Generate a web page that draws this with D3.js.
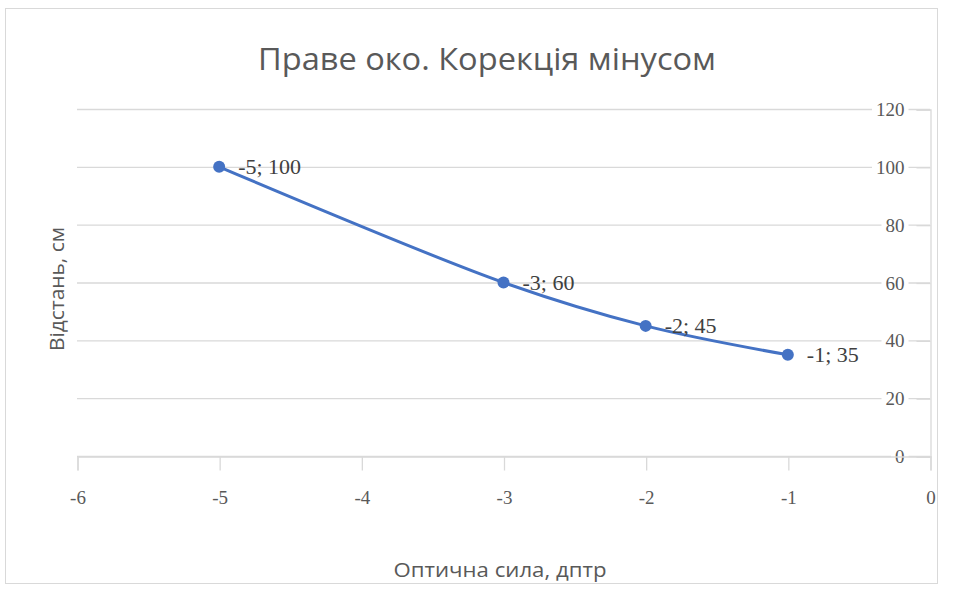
<!DOCTYPE html>
<html>
<head>
<meta charset="utf-8">
<script src="https://cdn.jsdelivr.net/npm/d3@7"></script>
<style>
  body { margin: 0; background: #fff; }
  svg { display: block; }
</style>
</head>
<body>
<svg id="chart" width="953" height="589"></svg>
<script>
// Optical power (diopters) vs. distance (cm)
const power = [-5, -3, -2, -1];
const distance = [100, 60, 45, 35];
const xTicks = [-6, -5, -4, -3, -2, -1, 0];
const yTicks = [0, 20, 40, 60, 80, 100, 120];
const title = "Праве око. Корекція мінусом";
const xTitle = "Оптична сила, дптр";
const yTitle = "Відстань, см";

const svg = d3.select("#chart");
const blue = "#4472C4";
const grid = "#d9d9d9";
const textCol = "#595959";
const numFont = "Liberation Serif, serif";
const sansFont = "Open Sans, sans-serif";

// chart border
svg.append("rect").attr("x", 5.5).attr("y", 8.5).attr("width", 932).attr("height", 575)
  .attr("fill", "#fff").attr("stroke", "#d9d9d9");

const x = d3.scaleLinear().domain([-6, 0]).range([77, 930]);
const y = d3.scaleLinear().domain([0, 120]).range([456, 109]);

// horizontal gridlines
svg.append("g").selectAll("line").data(yTicks).join("line")
  .attr("x1", x(-6)).attr("x2", x(0))
  .attr("y1", d => y(d) + 0.5).attr("y2", d => y(d) + 0.5)
  .attr("stroke", grid).attr("stroke-width", 1.3);

// y axis on the right, at x = 0
const yAxis = svg.append("g").attr("transform", `translate(${x(0) + 0.5},0.5)`)
  .call(d3.axisLeft(y).tickValues(yTicks).tickSize(14).tickPadding(12).tickFormat(d => String(d)));
yAxis.select(".domain").attr("stroke", grid).attr("stroke-width", 1.3);
yAxis.selectAll(".tick line").attr("stroke", grid).attr("stroke-width", 1.3);
yAxis.selectAll(".tick text")
  .attr("font-family", numFont).attr("font-size", 19)
  .attr("fill", textCol);
// white boxes behind y labels
yAxis.selectAll(".tick").each(function () {
  const t = d3.select(this).select("text");
  const bb = t.node().getBBox();
  d3.select(this).insert("rect", "text")
    .attr("x", bb.x - 4).attr("y", bb.y).attr("width", bb.width + 8).attr("height", bb.height)
    .attr("fill", "#fff");
});

// x axis along y = 0
const xAxis = svg.append("g").attr("transform", `translate(0.5,${y(0) + 0.5})`)
  .call(d3.axisBottom(x).tickValues(xTicks).tickSize(14).tickPadding(20).tickFormat(d => String(d)));
xAxis.select(".domain").attr("stroke", grid).attr("stroke-width", 1.3);
xAxis.selectAll(".tick line").attr("stroke", grid).attr("stroke-width", 1.3);
xAxis.selectAll(".tick text")
  .attr("font-family", numFont).attr("font-size", 19)
  .attr("fill", textCol);

// smoothed series line
const pts = power.map((p, i) => [p, distance[i]]);
svg.append("path").datum(pts)
  .attr("fill", "none").attr("stroke", blue).attr("stroke-width", 3)
  .attr("d", d3.line().x(d => x(d[0])).y(d => y(d[1])).curve(d3.curveCatmullRom.alpha(0.5)));

svg.append("g").selectAll("circle").data(pts).join("circle")
  .attr("cx", d => x(d[0])).attr("cy", d => y(d[1])).attr("r", 6)
  .attr("fill", blue);

// data labels
svg.append("g").selectAll("text").data(pts).join("text")
  .attr("x", d => x(d[0]) + 19).attr("y", d => y(d[1]) + 7)
  .attr("font-family", numFont).attr("font-size", 22)
  .attr("fill", "#404040")
  .text(d => `${d[0]}; ${d[1]}`);

// titles
svg.append("text").attr("x", 487).attr("y", 70).attr("text-anchor", "middle")
  .attr("font-family", sansFont).attr("font-size", 31)
  .attr("textLength", 458).attr("lengthAdjust", "spacingAndGlyphs")
  .attr("fill", textCol).text(title);

svg.append("text").attr("x", 500).attr("y", 584 - 7).attr("text-anchor", "middle")
  .attr("font-family", sansFont).attr("font-size", 20)
  .attr("textLength", 213).attr("lengthAdjust", "spacingAndGlyphs")
  .attr("fill", textCol).text(xTitle);

svg.append("text").attr("transform", `translate(64,289) rotate(-90)`).attr("text-anchor", "middle")
  .attr("font-family", sansFont).attr("font-size", 20)
  .attr("textLength", 124).attr("lengthAdjust", "spacingAndGlyphs")
  .attr("fill", textCol).text(yTitle);
</script>
</body>
</html>
